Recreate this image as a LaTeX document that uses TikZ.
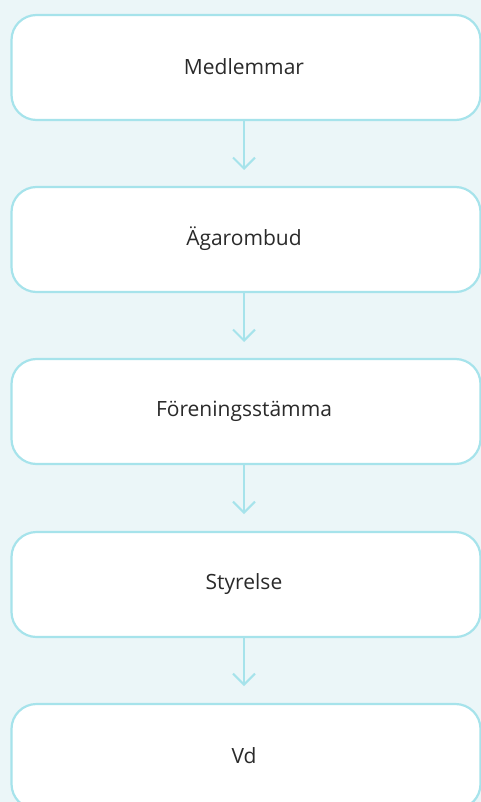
\documentclass[tikz,border=0pt]{standalone}
\usepackage{fontspec}
\setmainfont{Open Sans}
\usetikzlibrary{arrows.meta}
\definecolor{bg}{HTML}{EBF6F8}
\definecolor{bord}{HTML}{A6E3EB}
\definecolor{txt}{HTML}{2A2A2A}
\tikzset{
  stepbox/.style={draw=bord, line width=2.2pt, fill=white, rounded corners=25pt,
    minimum width=469pt, minimum height=105pt, inner sep=0pt},
  steplabel/.style={font=\fontsize{21}{25}\selectfont, text=txt, inner sep=0pt},
  flow/.style={draw=bord, line width=2pt, -{Straight Barb[length=11pt,width=22pt,line width=2pt]}}
}
\begin{document}
\begin{tikzpicture}[x=1pt,y=-1pt]
\useasboundingbox (0,0) rectangle (481,802);
\clip (0,0) rectangle (481,802);
\fill[bg] (0,0) rectangle (481,802);
\node[stepbox] (a) at (246,67.5) {};
\node[stepbox] (b) at (246,239.5) {};
\node[stepbox] (c) at (246,411.5) {};
\node[stepbox] (d) at (246,584.5) {};
\node[stepbox] (e) at (246,756.5) {};
\node[steplabel] (la) at (244,67) {Medlemmar};
\node[steplabel] (lb) at (244,239) {Ägarombud};
\node[steplabel] (lc) at (244,411) {Föreningsstämma};
\node[steplabel] (ld) at (244,584) {Styrelse};
\node[steplabel] (le) at (244,756) {Vd};
\coordinate (t1) at (244,170);
\coordinate (t2) at (244,342);
\coordinate (t3) at (244,514);
\coordinate (t4) at (244,686);
\draw[flow] (a.south -| t1) -- (t1);
\draw[flow] (b.south -| t2) -- (t2);
\draw[flow] (c.south -| t3) -- (t3);
\draw[flow] (d.south -| t4) -- (t4);
\end{tikzpicture}
\end{document}
